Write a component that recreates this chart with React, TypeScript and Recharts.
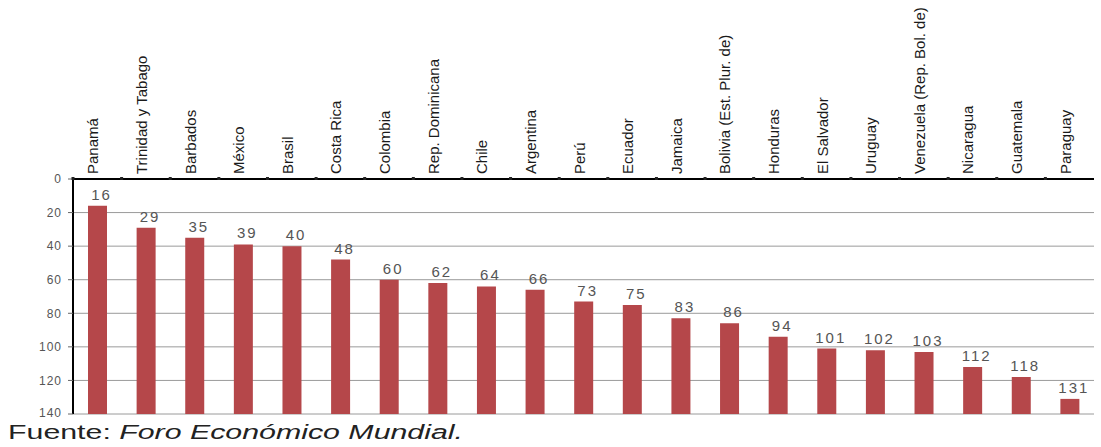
import { BarChart, Bar, XAxis, YAxis, CartesianGrid, LabelList } from "recharts";

const countries = [
  "Panamá",
  "Trinidad y Tabago",
  "Barbados",
  "México",
  "Brasil",
  "Costa Rica",
  "Colombia",
  "Rep. Dominicana",
  "Chile",
  "Argentina",
  "Perú",
  "Ecuador",
  "Jamaica",
  "Bolivia (Est. Plur. de)",
  "Honduras",
  "El Salvador",
  "Uruguay",
  "Venezuela (Rep. Bol. de)",
  "Nicaragua",
  "Guatemala",
  "Paraguay",
];
const ranks = [16, 29, 35, 39, 40, 48, 60, 62, 64, 66, 73, 75, 83, 86, 94, 101, 102, 103, 112, 118, 131];
const yTicks = [0, 20, 40, 60, 80, 100, 120, 140];
const RANK_MAX = 140;

const data = countries.map((country, i) => ({ country, rank: ranks[i] }));

const FONT = "'Liberation Sans', Arial, sans-serif";

// category names sit above the top axis, rotated, with a small mark at each band edge
function CountryTick(props: any) {
  const { x, y, payload } = props;
  const half = payload?.offset ?? 24.3;
  return (
    <g>
      <rect x={x - half - 1.5} y={y + 2} width={3} height={3} fill="#222" />
      <text
        transform={`translate(${x + 1},${y - 1}) rotate(-90)`}
        textAnchor="start"
        fontSize={15}
        fontFamily={FONT}
        fill="#1a1a1a"
      >
        {payload.value}
      </text>
    </g>
  );
}

function RankLabel(props: any) {
  const { x, y, width, height, value } = props;
  const top = Math.min(y, y + height);
  return (
    <text
      x={x + width / 2 + 4}
      y={top - 6}
      textAnchor="middle"
      fontSize={15}
      letterSpacing={2}
      fontFamily={FONT}
      fill="#555"
    >
      {value}
    </text>
  );
}

export default function App() {
  return (
    <div
      style={{
        position: "absolute",
        left: 0,
        top: 0,
        width: 1101,
        height: 447,
        background: "#fff",
      }}
    >
      <BarChart
        width={1101}
        height={420}
        data={data}
        margin={{ top: 0, right: 7, left: 33, bottom: 6 }}
        barSize={19}
      >
        <CartesianGrid vertical={false} stroke="#9a9a9a" strokeWidth={1} />
        <XAxis
          dataKey="country"
          orientation="top"
          height={179}
          interval={0}
          tickSize={0}
          tickMargin={4}
          tickLine={false}
          axisLine={{ stroke: "#000", strokeWidth: 2 }}
          tick={<CountryTick />}
        />
        <YAxis
          type="number"
          reversed
          domain={[0, RANK_MAX]}
          ticks={yTicks}
          width={40}
          tickSize={5}
          tickMargin={6}
          tickLine={{ stroke: "#666" }}
          axisLine={{ stroke: "#000", strokeWidth: 2 }}
          tick={{ fill: "#555", fontSize: 12, fontFamily: FONT, letterSpacing: 1 }}
        />
        <Bar
          dataKey={(d: any) => [RANK_MAX, d.rank]}
          fill="#b5474a"
          isAnimationActive={false}
        >
          <LabelList dataKey="rank" content={<RankLabel />} />
        </Bar>
      </BarChart>
      <svg
        width={1101}
        height={27}
        style={{ position: "absolute", left: 0, top: 420 }}
      >
        <text
          x={8}
          y={19}
          fontSize={20}
          fontFamily={FONT}
          fill="#222"
          textLength={455}
          lengthAdjust="spacingAndGlyphs"
        >
          <tspan>Fuente: </tspan>
          <tspan fontStyle="italic">Foro Económico Mundial.</tspan>
        </text>
      </svg>
    </div>
  );
}
